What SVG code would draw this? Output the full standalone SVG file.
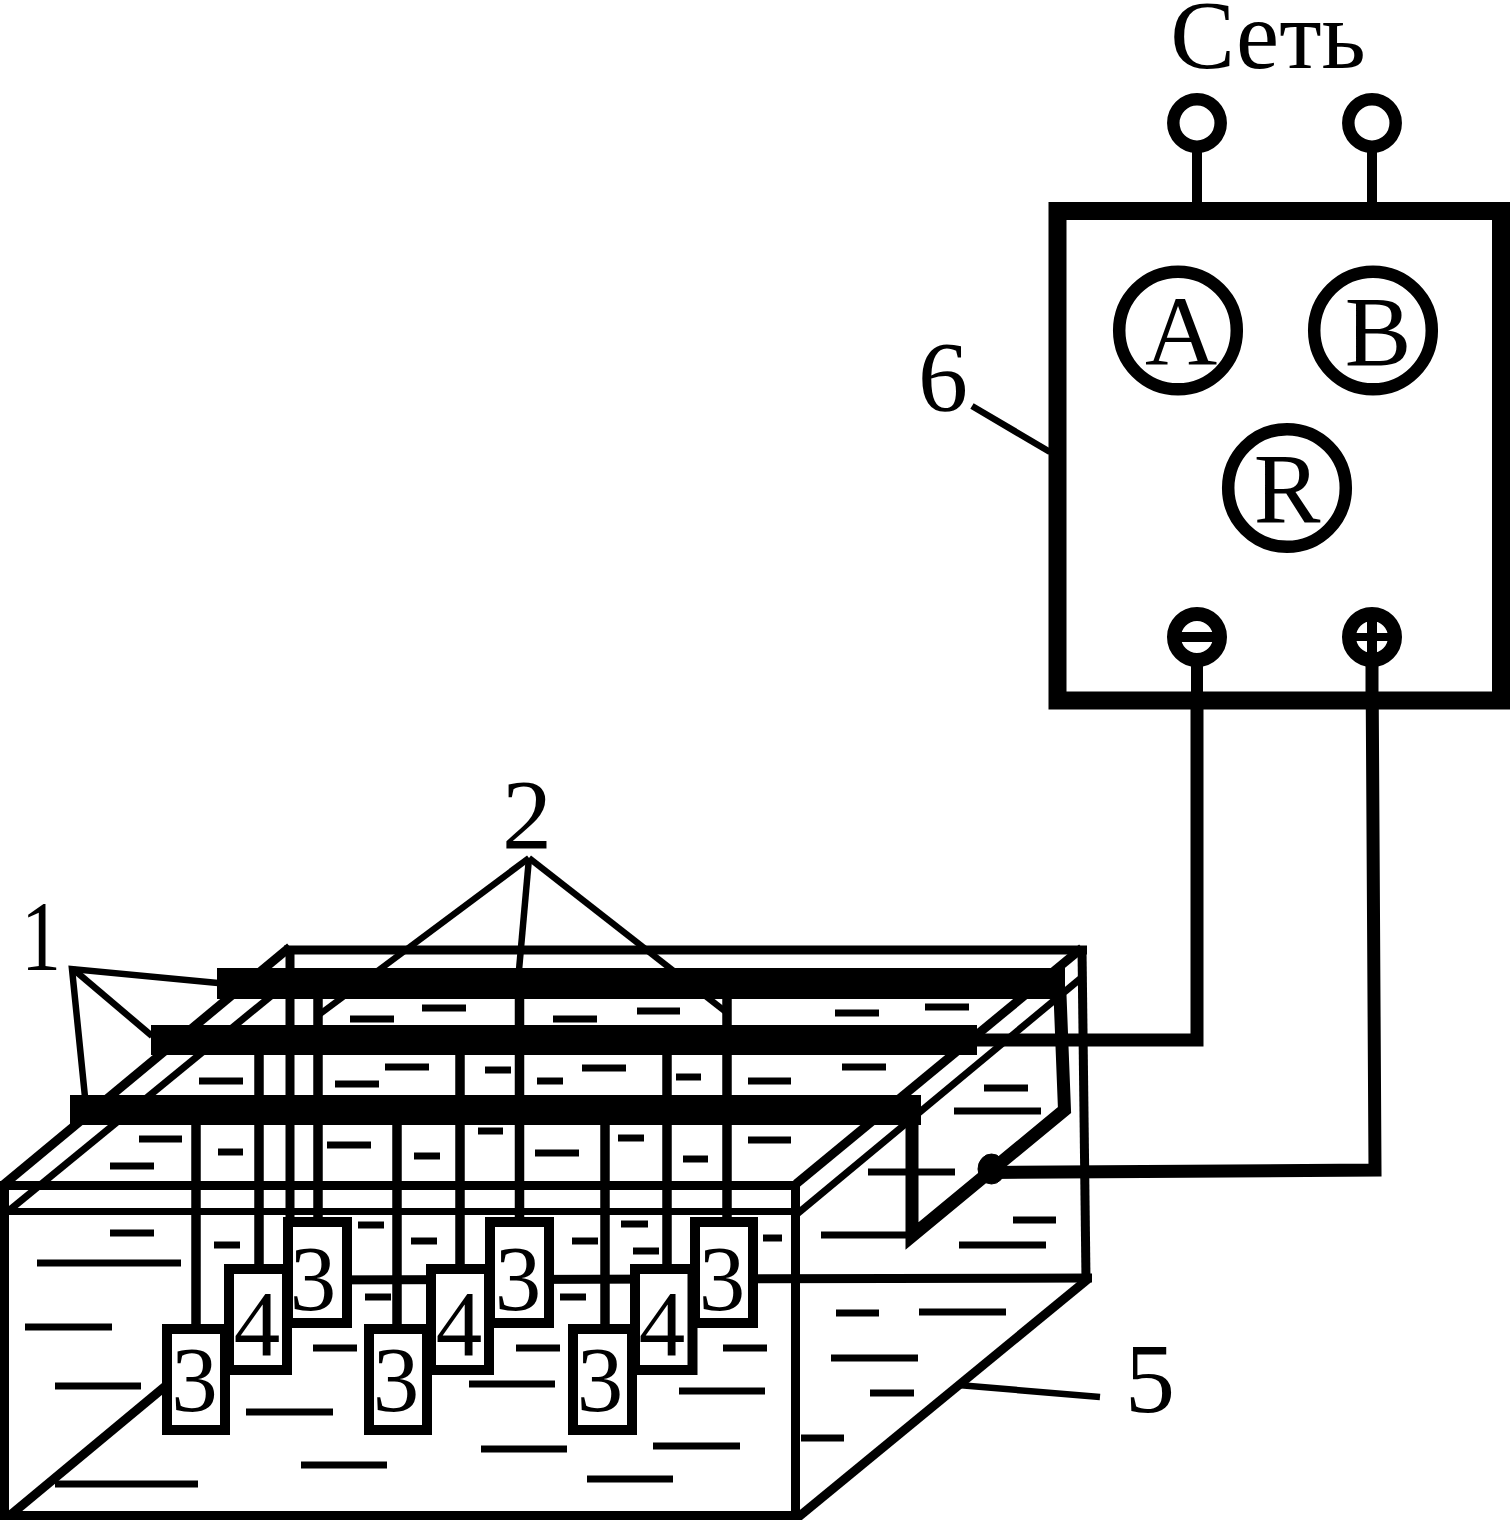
<svg xmlns="http://www.w3.org/2000/svg" width="1510" height="1520" viewBox="0 0 1510 1520">
<style>
text{font-family:"Liberation Serif","Times New Roman",serif;fill:#000;text-anchor:middle}
.lab{font-size:100px}
.dig{font-size:93px}
.met{font-size:100px}
line,polyline,circle,ellipse{stroke:#000;fill:none}
.box{fill:#fff;stroke:#000;stroke-width:10}
.bar{fill:#000;stroke:none}
.t{stroke-width:9}
.w{stroke-width:7}
.ld{stroke-width:6.5}
.p{stroke-width:9.5}
.wire{stroke-width:13;stroke-linejoin:miter}
.ring{stroke-width:12.5;fill:#fff}
.d line{stroke-width:7}
</style>
<rect width="1510" height="1520" fill="#fff"/>
<g id="water-marks" class="d">
<line x1="139" y1="1139" x2="182" y2="1139"/><line x1="110" y1="1166" x2="154" y2="1166"/><line x1="218" y1="1152" x2="243" y2="1152"/><line x1="327" y1="1145" x2="371" y2="1145"/><line x1="414" y1="1156" x2="440" y2="1156"/><line x1="478" y1="1131" x2="503" y2="1131"/>
<line x1="199" y1="1081" x2="243" y2="1081"/><line x1="335" y1="1084" x2="379" y2="1084"/><line x1="385" y1="1067" x2="429" y2="1067"/><line x1="485" y1="1070" x2="511" y2="1070"/>
<line x1="350" y1="1019" x2="394" y2="1019"/><line x1="422" y1="1008" x2="466" y2="1008"/><line x1="553" y1="1019" x2="597" y2="1019"/><line x1="637" y1="1011" x2="680" y2="1011"/><line x1="835" y1="1013" x2="879" y2="1013"/><line x1="925" y1="1007" x2="969" y2="1007"/>
<line x1="537" y1="1081" x2="563" y2="1081"/><line x1="582" y1="1068" x2="626" y2="1068"/><line x1="676" y1="1077" x2="701" y2="1077"/><line x1="748" y1="1081" x2="791" y2="1081"/><line x1="842" y1="1067" x2="886" y2="1067"/><line x1="984" y1="1088" x2="1028" y2="1088"/><line x1="954" y1="1111" x2="1041" y2="1111"/>
<line x1="535" y1="1153" x2="579" y2="1153"/><line x1="618" y1="1138" x2="644" y2="1138"/><line x1="683" y1="1159" x2="708" y2="1159"/><line x1="748" y1="1140" x2="791" y2="1140"/><line x1="868" y1="1172" x2="955" y2="1172"/>
<line x1="821" y1="1235" x2="906" y2="1235"/><line x1="1013" y1="1220" x2="1056" y2="1220"/><line x1="959" y1="1245" x2="1046" y2="1245"/><line x1="572" y1="1241" x2="598" y2="1241"/><line x1="621" y1="1224" x2="648" y2="1224"/><line x1="633" y1="1251" x2="659" y2="1251"/><line x1="763" y1="1238" x2="782" y2="1238"/>
<line x1="110" y1="1233" x2="154" y2="1233"/><line x1="37" y1="1263" x2="181" y2="1263"/><line x1="25" y1="1327" x2="112" y2="1327"/><line x1="55" y1="1386" x2="141" y2="1386"/><line x1="214" y1="1245" x2="240" y2="1245"/><line x1="358" y1="1225" x2="384" y2="1225"/><line x1="411" y1="1241" x2="437" y2="1241"/><line x1="365" y1="1297" x2="391" y2="1297"/><line x1="313" y1="1348" x2="357" y2="1348"/><line x1="246" y1="1412" x2="333" y2="1412"/><line x1="301" y1="1465" x2="387" y2="1465"/><line x1="55" y1="1484" x2="198" y2="1484"/>
<line x1="469" y1="1384" x2="555" y2="1384"/><line x1="481" y1="1449" x2="567" y2="1449"/><line x1="587" y1="1479" x2="673" y2="1479"/><line x1="653" y1="1446" x2="740" y2="1446"/><line x1="679" y1="1391" x2="765" y2="1391"/><line x1="516" y1="1348" x2="560" y2="1348"/><line x1="723" y1="1348" x2="767" y2="1348"/><line x1="560" y1="1297" x2="586" y2="1297"/>
<line x1="836" y1="1313" x2="879" y2="1313"/><line x1="919" y1="1312" x2="1006" y2="1312"/><line x1="831" y1="1358" x2="918" y2="1358"/><line x1="870" y1="1393" x2="914" y2="1393"/><line x1="801" y1="1438" x2="844" y2="1438"/>
</g>
<g id="tank">
<line class="t" x1="0" y1="1185.5" x2="800" y2="1185.5"/>
<line class="w" x1="4" y1="1211.5" x2="800" y2="1211.5"/>
<line class="t" x1="4.5" y1="1181" x2="4.5" y2="1520"/>
<line class="t" x1="795.5" y1="1181" x2="795.5" y2="1520"/>
<line class="t" x1="0" y1="1515.5" x2="800" y2="1515.5"/>
<line class="t" x1="284" y1="950" x2="1087" y2="950"/>
<line class="t" x1="290" y1="950" x2="290" y2="1218"/>
<line class="t" x1="1082" y1="948" x2="1086" y2="1280"/>
<line class="t" x1="290" y1="1280" x2="1092" y2="1278"/>
<line class="t" x1="2" y1="1186" x2="290" y2="947"/>
<line class="w" x1="6" y1="1213" x2="293" y2="978"/>
<line class="t" x1="796" y1="1184" x2="1082" y2="948"/>
<line class="w" x1="797" y1="1214" x2="1080" y2="979"/>
<line class="t" x1="8" y1="1517" x2="168" y2="1384"/>
<line class="t" x1="796" y1="1519" x2="1088" y2="1279"/>
</g>
<g id="connectors">
<line class="ld" x1="529" y1="858" x2="320" y2="1014"/>
<line class="ld" x1="529" y1="858" x2="519" y2="970"/>
<line class="ld" x1="529" y1="858" x2="726" y2="1012"/>
<polyline class="ld" points="218,983 72,969 85,1097"/>
<line class="ld" x1="73" y1="969" x2="152" y2="1036"/>
<line class="ld" x1="958" y1="1385" x2="1100" y2="1397"/>
<line class="ld" x1="972" y1="406" x2="1050" y2="452"/>
<line class="p" x1="196" y1="1110" x2="196" y2="1326"/>
<line class="p" x1="259" y1="1040" x2="259" y2="1266"/>
<line class="p" x1="318" y1="985" x2="318" y2="1219"/>
<line class="p" x1="397" y1="1110" x2="397" y2="1326"/>
<line class="p" x1="460" y1="1040" x2="460" y2="1266"/>
<line class="p" x1="519.500" y1="985" x2="519.500" y2="1219"/>
<line class="p" x1="605" y1="1110" x2="605" y2="1326"/>
<line class="p" x1="667" y1="1040" x2="667" y2="1266"/>
<line class="p" x1="727" y1="985" x2="727" y2="1219"/>
<polyline class="wire" points="970,1040 1197,1040 1197,660"/>
<polyline class="wire" points="990,1172.500 1375,1170 1372,660"/>
<polyline class="wire" points="1060,995 1064.500,1110 912,1236 912,1120"/>
<ellipse cx="991.500" cy="1169" rx="13.500" ry="15" style="fill:#000"/>
<line x1="1197" y1="150" x2="1197" y2="205" style="stroke-width:10"/>
<line x1="1372" y1="150" x2="1372" y2="205" style="stroke-width:10"/>
</g>
<g id="bars">
<rect id="bar-top" class="bar" x="217" y="968" width="848" height="31"/>
<rect id="bar-mid" class="bar" x="151" y="1025" width="826" height="30"/>
<rect id="bar-front" class="bar" x="70" y="1095" width="851" height="30"/>
</g>
<g id="electrodes">
<g id="anode-1"><rect class="box" x="288" y="1222" width="59" height="101"/><text class="dig" x="313" y="1309.500">3</text></g>
<g id="anode-2"><rect class="box" x="490" y="1222" width="59" height="101"/><text class="dig" x="518" y="1309.500">3</text></g>
<g id="anode-3"><rect class="box" x="695" y="1222" width="58" height="101"/><text class="dig" x="722" y="1309.500">3</text></g>
<g id="cathode-1"><rect class="box" x="229" y="1269" width="58" height="101"/><text class="dig" x="257" y="1355">4</text></g>
<g id="cathode-2"><rect class="box" x="431" y="1269" width="58" height="101"/><text class="dig" x="459" y="1355">4</text></g>
<g id="cathode-3"><rect class="box" x="635" y="1269" width="57.500" height="101"/><text class="dig" x="662" y="1355">4</text></g>
<g id="anode-4"><rect class="box" x="167" y="1329" width="58" height="101"/><text class="dig" x="194.500" y="1411">3</text></g>
<g id="anode-5"><rect class="box" x="369" y="1329" width="58" height="101"/><text class="dig" x="396" y="1411">3</text></g>
<g id="anode-6"><rect class="box" x="573" y="1329" width="59" height="101"/><text class="dig" x="600" y="1411">3</text></g>
</g>
<g id="power-unit">
<rect x="1057.500" y="211" width="443.500" height="489.500" fill="#fff" stroke="#000" stroke-width="18"/>
<g id="meter-a"><circle cx="1178" cy="330.500" r="58.800" style="stroke-width:12.500"/><text class="met" x="1181" y="365">A</text></g>
<g id="meter-b"><circle cx="1373" cy="330.500" r="58.800" style="stroke-width:12.500"/><text class="met" x="1378" y="365">B</text></g>
<g id="meter-r"><circle cx="1287" cy="488" r="58.800" style="stroke-width:12.500"/><text class="met" x="1287" y="522">R</text></g>
<g id="term-minus"><line x1="1197" y1="660" x2="1197" y2="700" style="stroke-width:12"/><circle cx="1197" cy="637" r="23" style="stroke-width:14;fill:#fff"/><line x1="1178" y1="637" x2="1216" y2="637" style="stroke-width:10"/></g>
<g id="term-plus"><line x1="1372" y1="660" x2="1372" y2="700" style="stroke-width:13"/><circle cx="1372" cy="637" r="23" style="stroke-width:14;fill:#fff"/><line x1="1353" y1="637" x2="1391" y2="637" style="stroke-width:8"/><line x1="1372" y1="618" x2="1372" y2="656" style="stroke-width:10"/></g>
</g>
<g id="mains">
<circle id="mains-1" class="ring" cx="1197" cy="123" r="23.700"/>
<circle id="mains-2" class="ring" cx="1372" cy="123" r="23.700"/>
<text x="1268" y="68" style="font-size:97px">Сеть</text>
</g>
<g id="labels">
<text class="lab" transform="translate(41 970) scale(.8 1)">1</text>
<text class="lab" x="527" y="848">2</text>
<text class="lab" x="1150" y="1412">5</text>
<text class="lab" x="943" y="410">6</text>
</g>
</svg>
